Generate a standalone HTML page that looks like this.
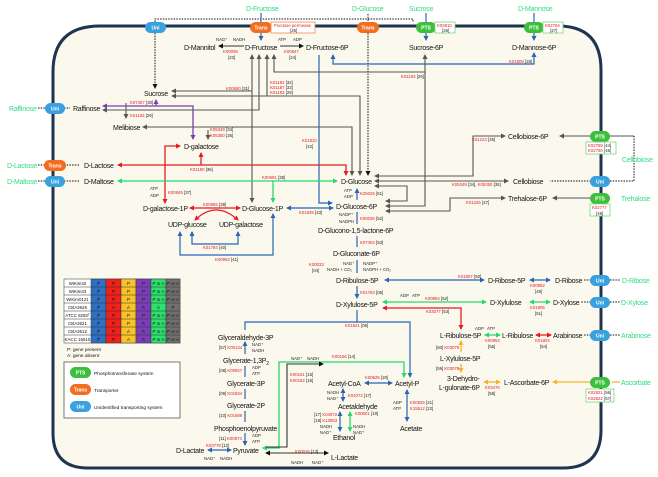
<!DOCTYPE html>
<html><head><meta charset="utf-8"><style>
html,body{margin:0;padding:0;background:#fff}
svg{display:block;font-family:"Liberation Sans",Arial,sans-serif}
.n{font-size:7px;letter-spacing:-0.25px;fill:#111}
.g{font-size:7px;letter-spacing:-0.2px;fill:#2fdc80}
.k{font-size:4.3px;fill:#222}
.r{fill:#e31b23}
.pl{font-size:5px;fill:#fff;text-anchor:middle;font-weight:bold}
</style></head><body>
<svg width="658" height="477" viewBox="0 0 658 477" xmlns="http://www.w3.org/2000/svg">
<defs>
<marker id="ab" markerWidth="5" markerHeight="5" refX="4" refY="2.5" orient="auto-start-reverse" markerUnits="userSpaceOnUse"><path d="M0,0L5,2.5L0,5z" fill="#2a66b4"/></marker>
<marker id="ar" markerWidth="5" markerHeight="5" refX="4" refY="2.5" orient="auto-start-reverse" markerUnits="userSpaceOnUse"><path d="M0,0L5,2.5L0,5z" fill="#e31b23"/></marker>
<marker id="ag" markerWidth="5" markerHeight="5" refX="4" refY="2.5" orient="auto-start-reverse" markerUnits="userSpaceOnUse"><path d="M0,0L5,2.5L0,5z" fill="#27d86a"/></marker>
<marker id="ak" markerWidth="5" markerHeight="5" refX="4" refY="2.5" orient="auto-start-reverse" markerUnits="userSpaceOnUse"><path d="M0,0L5,2.5L0,5z" fill="#555"/></marker>
<marker id="ad" markerWidth="5" markerHeight="5" refX="4" refY="2.5" orient="auto-start-reverse" markerUnits="userSpaceOnUse"><path d="M0,0L5,2.5L0,5z" fill="#111"/></marker>
<marker id="ap" markerWidth="5" markerHeight="5" refX="4" refY="2.5" orient="auto-start-reverse" markerUnits="userSpaceOnUse"><path d="M0,0L5,2.5L0,5z" fill="#7a3db8"/></marker>
<marker id="ay" markerWidth="5" markerHeight="5" refX="4" refY="2.5" orient="auto-start-reverse" markerUnits="userSpaceOnUse"><path d="M0,0L5,2.5L0,5z" fill="#f4b42a"/></marker>
</defs>
<path d="M100,26 H558 Q601,26 601,70 V430 Q601,468 563,468 H88 Q53,468 53,433 V72 Q53,26 100,26 Z" fill="#fbf9ee" stroke="#1e3552" stroke-width="3"/>
<path d="M155,22 V19 H413 V22" fill="none" stroke="#111" stroke-width="1" stroke-dasharray="1.5,1.2"/>
<path d="M155,33 V88" stroke="#111" stroke-width="1" stroke-dasharray="1.5,1.2" marker-end="url(#ad)"/>
<path d="M368,33 V175" stroke="#111" stroke-width="1" stroke-dasharray="1.5,1.2" marker-end="url(#ad)"/>
<path d="M368,14 V22" stroke="#111" stroke-width="1" stroke-dasharray="1.5,1.2"/>
<g stroke="#2a66b4" stroke-width="1.2" fill="none">
<path d="M261,13 V40" marker-end="url(#ab)"/>
<path d="M426,13 V22"/><path d="M534,13 V40" marker-end="url(#ab)"/>
<path d="M426,32 V40" marker-end="url(#ab)"/>
<path d="M534,53 V64 H333 V55" marker-start="url(#ab)" marker-end="url(#ab)"/>
<path d="M319,55 V203 H332" marker-end="url(#ab)"/>
<path d="M287,208 H333" marker-start="url(#ab)" marker-end="url(#ab)"/>
<path d="M192,232 V244 H238 V232" marker-start="url(#ab)" marker-end="url(#ab)"/>
<path d="M180,232 V255 H273 V214" marker-start="url(#ab)" marker-end="url(#ab)"/>
<path d="M357,189 V200 M357,212 V224 M357,236 V247 M357,260 V273 M357,286 V298" marker-start="url(#ab)" marker-end="url(#ab)"/>
<path d="M385,280 H484" marker-start="url(#ab)" marker-end="url(#ab)"/>
<path d="M530,280 H550" marker-start="url(#ab)" marker-end="url(#ab)"/>
<path d="M357,310 V322 M245,330 V322 H410 V377" marker-end="url(#ab)"/>
<path d="M245,342 V354 M245,366 V377 M245,389 V399 M245,411 V422 M245,433 V445" marker-start="url(#ab)" marker-end="url(#ab)"/>
<path d="M208,450 H231" marker-start="url(#ab)" marker-end="url(#ab)"/>
<path d="M365,383 H392" marker-start="url(#ab)" marker-end="url(#ab)"/>
<path d="M407,390 V421" marker-start="url(#ab)" marker-end="url(#ab)"/>
<path d="M343,389 V401" marker-start="url(#ab)" marker-end="url(#ab)"/>
<path d="M340,412 V431" marker-start="url(#ab)" marker-end="url(#ab)"/>
</g>
<g stroke="#555" stroke-width="1.1" fill="none">
<path d="M252,55 V202" marker-start="url(#ak)" marker-end="url(#ak)"/>
<path d="M259,55 V110 H103" marker-start="url(#ak)" marker-end="url(#ak)"/>
<path d="M252,91 H172" marker-end="url(#ak)"/>
<path d="M267,55 V96 H172" marker-start="url(#ak)" marker-end="url(#ak)"/>
<path d="M267,96 H360 V175" marker-end="url(#ak)"/>
<path d="M274,55 V72 H425 V55" marker-start="url(#ak)" marker-end="url(#ak)"/>
<path d="M425,72 V206 H386" marker-end="url(#ak)"/>
<path d="M126,103 V118" marker-end="url(#ak)"/>
<path d="M143,127 H352 V175" marker-start="url(#ak)" marker-end="url(#ak)"/>
<path d="M375,176 H473 V136 H505" marker-start="url(#ak)" marker-end="url(#ak)"/>
<path d="M375,181 H508" marker-start="url(#ak)" marker-end="url(#ak)"/>
<path d="M375,186 H407 V201 H386" marker-start="url(#ak)" marker-end="url(#ak)"/>
<path d="M386,211 H450 V198 H505" marker-start="url(#ak)" marker-end="url(#ak)"/>
<path d="M208,130 V139" marker-end="url(#ak)"/>
<path d="M590,136 H560" marker-end="url(#ak)"/>
<path d="M590,198 H553" marker-end="url(#ak)"/>
<path d="M610,136 H634"/>
</g>
<g stroke="#e31b23" stroke-width="1.3" fill="none">
<path d="M118,165 H346 V175" marker-start="url(#ar)" marker-end="url(#ar)"/>
<path d="M201,165 V153" marker-end="url(#ar)"/>
<path d="M180,146 H165 V203" marker-start="url(#ar)" marker-end="url(#ar)"/>
<path d="M190,208 H240" marker-start="url(#ar)" marker-end="url(#ar)"/>
<path d="M195,220 Q216,200 238,220" marker-start="url(#ar)" marker-end="url(#ar)"/>
<path d="M383,308 H461 V329" marker-start="url(#ar)" marker-end="url(#ar)"/>
<path d="M536,335 H551" marker-start="url(#ar)" marker-end="url(#ar)"/>
</g>
<g stroke="#27d86a" stroke-width="1.3" fill="none">
<path d="M118,181 H337" marker-start="url(#ag)" marker-end="url(#ag)"/>
<path d="M273,181 V202" marker-end="url(#ag)"/>
<path d="M383,302 H486" marker-start="url(#ag)" marker-end="url(#ag)"/>
<path d="M530,302 H550" marker-start="url(#ag)" marker-end="url(#ag)"/>
<path d="M485,335 H500" marker-start="url(#ag)" marker-end="url(#ag)"/>
<path d="M263,448 H279 V362 H404 V377" marker-start="url(#ag)" marker-end="url(#ag)"/>
<path d="M350,412 V431" marker-start="url(#ag)" marker-end="url(#ag)"/>
</g>
<g stroke="#7a3db8" stroke-width="1.3" fill="none">
<path d="M103,106 H193 V139" marker-start="url(#ap)" marker-end="url(#ap)"/>
<path d="M156,106 V100" marker-end="url(#ap)"/>
</g>
<g stroke="#f4b42a" stroke-width="1.3" fill="none">
<path d="M461,341 V352 M461,364 V372" marker-start="url(#ay)" marker-end="url(#ay)"/>
<path d="M484,382 H500" marker-start="url(#ay)" marker-end="url(#ay)"/>
<path d="M590,382 H553" marker-end="url(#ay)"/>
<path d="M612,382 H620"/>
</g>
<g stroke="#333" stroke-width="1.1" fill="none">
<path d="M266,447 H287 V364 H323" marker-end="url(#ad)"/>
<path d="M266,453 H328" marker-start="url(#ad)" marker-end="url(#ad)"/>
<path d="M219,46 H244 M280,46 H303" marker-start="url(#ad)" marker-end="url(#ad)"/>
</g>
<g stroke="#111" stroke-width="1" stroke-dasharray="1.5,1.2" fill="none">
<path d="M38,108 H45 M64,108 H70 M38,165 H45 M64,165 H80 M38,181 H45 M64,181 H80"/>
<path d="M591,181 H550 M634,136 V181 H610 M610,280 H620 M591,280 H583 M610,302 H620 M591,302 H581 M610,335 H620 M591,335 H583"/>
</g>
<g>
<rect x="145" y="22" width="21" height="11" rx="5.5" fill="#3aa0de"/><text class="pl" x="155.5" y="29.5">Uni</text>
<rect x="250" y="22" width="22" height="11" rx="5.5" fill="#f36d21"/><text class="pl" x="261" y="29.5">Trans</text>
<rect x="357" y="22" width="22" height="11" rx="5.5" fill="#f36d21"/><text class="pl" x="368" y="29.5">Trans</text>
<rect x="416" y="22" width="20" height="11" rx="5.5" fill="#3cbf3c"/><text class="pl" x="426" y="29.5">PTS</text>
<rect x="524" y="22" width="20" height="11" rx="5.5" fill="#3cbf3c"/><text class="pl" x="534" y="29.5">PTS</text>
<rect x="45" y="103" width="20" height="11" rx="5.5" fill="#3aa0de"/><text class="pl" x="55" y="110.5">Uni</text>
<rect x="44" y="160" width="22" height="11" rx="5.5" fill="#f36d21"/><text class="pl" x="55" y="167.5">Trans</text>
<rect x="45" y="176" width="20" height="11" rx="5.5" fill="#3aa0de"/><text class="pl" x="55" y="183.5">Uni</text>
<rect x="590" y="131" width="20" height="11" rx="5.5" fill="#3cbf3c"/><text class="pl" x="600" y="138.5">PTS</text>
<rect x="590" y="176" width="20" height="11" rx="5.5" fill="#3aa0de"/><text class="pl" x="600" y="183.5">Uni</text>
<rect x="590" y="193" width="20" height="11" rx="5.5" fill="#3cbf3c"/><text class="pl" x="600" y="200.5">PTS</text>
<rect x="590" y="275" width="20" height="11" rx="5.5" fill="#3aa0de"/><text class="pl" x="600" y="282.5">Uni</text>
<rect x="590" y="297" width="20" height="11" rx="5.5" fill="#3aa0de"/><text class="pl" x="600" y="304.5">Uni</text>
<rect x="590" y="330" width="20" height="11" rx="5.5" fill="#3aa0de"/><text class="pl" x="600" y="337.5">Uni</text>
<rect x="590" y="377" width="20" height="11" rx="5.5" fill="#3cbf3c"/><text class="pl" x="600" y="384.5">PTS</text>
</g>
<g fill="#fff" stroke-width="0.8">
<rect x="271" y="22" width="44" height="11" stroke="#f08a4b"/>
<rect x="435" y="22" width="20" height="11" stroke="#7cd47c"/>
<rect x="543" y="22" width="20" height="11" stroke="#7cd47c"/>
<rect x="586" y="142" width="30" height="12" stroke="#7cd47c"/>
<rect x="590" y="204" width="20" height="12" stroke="#7cd47c"/>
<rect x="586" y="389" width="28" height="13" stroke="#7cd47c"/>
</g>
<g class="k">
<text x="274" y="27" class="r">Fructose permease</text><text x="290" y="32">[25]</text>
<text x="437" y="27" class="r">K02810</text><text x="442" y="32">[26]</text>
<text x="545" y="27" class="r">K02794</text><text x="550" y="32">[27]</text>
<text x="588" y="147"><tspan class="r">K02759</tspan> [44]</text><text x="588" y="152"><tspan class="r">K02760</tspan> [45]</text>
<text x="592" y="209" class="r">K02777</text><text x="596" y="215">[48]</text>
<text x="588" y="394"><tspan class="r">K02821</tspan> [56]</text><text x="588" y="400"><tspan class="r">K02822</tspan> [57]</text>
</g>
<g class="g">
<text x="246" y="11">D-Fructose</text><text x="352" y="11">D-Glucose</text><text x="409" y="11">Sucrose</text><text x="518" y="11">D-Mannose</text>
<text x="9" y="111">Raffinose</text><text x="7" y="168">D-Lactose</text><text x="7" y="184">D-Maltose</text>
<text x="622" y="162">Cellobiose</text><text x="621" y="201">Trehalose</text>
<text x="622" y="283">D-Ribose</text><text x="621" y="305">D-Xylose</text><text x="621" y="338">Arabinose</text><text x="621" y="385">Ascorbate</text>
</g>
<g class="n">
<text x="184" y="50">D-Mannitol</text><text x="245" y="50">D-Fructose</text><text x="306" y="50">D-Fructose-6P</text>
<text x="409" y="50">Sucrose-6P</text><text x="512" y="50">D-Mannose-6P</text>
<text x="144" y="96">Sucrose</text><text x="73" y="111">Raffinose</text><text x="113" y="130">Melibiose</text>
<text x="184" y="149">D-galactose</text><text x="84" y="168">D-Lactose</text><text x="84" y="184">D-Maltose</text>
<text x="143" y="211">D-galactose-1P</text><text x="242" y="211">D-Glucose-1P</text>
<text x="168" y="227">UDP-glucose</text><text x="219" y="227">UDP-galactose</text>
<text x="341" y="184">D-Glucose</text><text x="336" y="209">D-Glucose-6P</text>
<text x="318" y="233">D-Glucono-1,5-lactone-6P</text><text x="333" y="256">D-Gluconate-6P</text>
<text x="336" y="283">D-Ribulose-5P</text><text x="336" y="307">D-Xylulose-5P</text>
<text x="508" y="139">Cellobiose-6P</text><text x="513" y="184">Cellobiose</text><text x="508" y="201">Trehalose-6P</text>
<text x="488" y="283">D-Ribose-5P</text><text x="555" y="283">D-Ribose</text>
<text x="490" y="305">D-Xylulose</text><text x="553" y="305">D-Xylose</text>
<text x="440" y="338">L-Ribulose-5P</text><text x="502" y="338">L-Ribulose</text><text x="553" y="338">Arabinose</text>
<text x="440" y="361">L-Xylulose-5P</text><text x="447" y="381">3-Dehydro-</text><text x="439" y="390">L-gulonate-6P</text>
<text x="504" y="385">L-Ascorbate-6P</text>
<text x="218" y="340">Glyceraldehyde-3P</text><text x="223" y="363">Glycerate-1,3P<tspan font-size="5" dy="2">2</tspan></text>
<text x="227" y="386">Glycerate-3P</text><text x="227" y="408">Glycerate-2P</text><text x="214" y="431">Phosphoenolpyruvate</text>
<text x="176" y="453">D-Lactate</text><text x="233" y="453">Pyruvate</text><text x="331" y="460">L-Lactate</text>
<text x="328" y="386">Acetyl-CoA</text><text x="338" y="409">Acetaldehyde</text><text x="333" y="440">Ethanol</text>
<text x="395" y="386">Acetyl-P</text><text x="400" y="431">Acetate</text>
</g>
<g class="k">
<text x="223" y="53" class="r">K00008</text><text x="228" y="59">[23]</text>
<text x="284" y="53" class="r">K00847</text><text x="289" y="59">[24]</text>
<text x="216" y="41">NAD⁺</text><text x="233" y="41">NADH</text><text x="278" y="41">ATP</text><text x="293" y="41">ADP</text>
<text x="226" y="90"><tspan class="r">K00690</tspan> [31]</text>
<text x="270" y="84"><tspan class="r">K01182</tspan> [32]</text><text x="270" y="89"><tspan class="r">K01187</tspan> [33]</text><text x="270" y="94"><tspan class="r">K01193</tspan> [29]</text>
<text x="401" y="78"><tspan class="r">K01193</tspan> [29]</text>
<text x="509" y="63"><tspan class="r">K01809</tspan> [28]</text>
<text x="130" y="104"><tspan class="r">K07407</tspan> [30]</text>
<text x="130" y="117"><tspan class="r">K01193</tspan> [29]</text>
<text x="210" y="131"><tspan class="r">K05349</tspan> [34]</text><text x="210" y="137"><tspan class="r">K05350</tspan> [35]</text>
<text x="302" y="142" class="r">K01810</text><text x="306" y="148">[42]</text>
<text x="190" y="171"><tspan class="r">K01190</tspan> [36]</text>
<text x="262" y="179"><tspan class="r">K00691</tspan> [38]</text>
<text x="150" y="190">ATP</text><text x="150" y="197">ADP</text><text x="168" y="194"><tspan class="r">K00849</tspan> [37]</text>
<text x="203" y="206"><tspan class="r">K00965</tspan> [39]</text>
<text x="299" y="214"><tspan class="r">K01835</tspan> [43]</text>
<text x="203" y="249"><tspan class="r">K01784</tspan> [40]</text>
<text x="215" y="261"><tspan class="r">K00963</tspan> [41]</text>
<text x="344" y="192">ATP</text><text x="344" y="198">ADP</text><text x="360" y="195"><tspan class="r">K25026</tspan> [51]</text>
<text x="339" y="216">NADP⁺</text><text x="339" y="223">NADPH</text><text x="360" y="220"><tspan class="r">K00036</tspan> [52]</text>
<text x="360" y="244"><tspan class="r">K07404</tspan> [53]</text>
<text x="309" y="266" class="r">K00033</text><text x="312" y="272">[04]</text>
<text x="343" y="265">NAD⁺</text><text x="363" y="265">NADP⁺</text><text x="327" y="271">NADH + CO₂</text><text x="363" y="271">NADPH + CO₂</text>
<text x="458" y="278"><tspan class="r">K01807</tspan> [50]</text>
<text x="360" y="294"><tspan class="r">K01783</tspan> [05]</text>
<text x="400" y="297">ADP</text><text x="412" y="297">ATP</text>
<text x="425" y="300"><tspan class="r">K00854</tspan> [52]</text>
<text x="426" y="313"><tspan class="r">K03077</tspan> [53]</text>
<text x="345" y="327"><tspan class="r">K01621</tspan> [06]</text>
<text x="530" y="287" class="r">K00852</text><text x="535" y="293">[49]</text>
<text x="530" y="309" class="r">K01805</text><text x="535" y="315">[51]</text>
<text x="485" y="342" class="r">K00853</text><text x="488" y="348">[55]</text>
<text x="535" y="342" class="r">K01804</text><text x="540" y="348">[54]</text>
<text x="475" y="330">ADP</text><text x="487" y="330">ATP</text>
<text x="436" y="349">[60] <tspan class="r">K03079</tspan></text>
<text x="436" y="370">[59] <tspan class="r">K03078</tspan></text>
<text x="485" y="389" class="r">K03476</text><text x="488" y="395">[58]</text>
<text x="219" y="349">[57] <tspan class="r">K00134</tspan></text><text x="252" y="346">NAD⁺</text><text x="252" y="352">NADH</text>
<text x="219" y="372">[08] <tspan class="r">K00927</tspan></text><text x="252" y="369">ADP</text><text x="252" y="375">ATP</text>
<text x="219" y="395">[09] <tspan class="r">K01834</tspan></text>
<text x="219" y="417">[10] <tspan class="r">K01689</tspan></text>
<text x="219" y="440">[11] <tspan class="r">K00873</tspan></text><text x="252" y="437">ADP</text><text x="252" y="443">ATP</text>
<text x="206" y="447"><tspan class="r">K03778</tspan> [12]</text><text x="204" y="460">NAD⁺</text><text x="220" y="460">NADH</text>
<text x="295" y="453"><tspan class="r">K00016</tspan> [13]</text><text x="291" y="464">NADH</text><text x="312" y="464">NAD⁺</text>
<text x="290" y="376"><tspan class="r">K00161</tspan> [15]</text><text x="290" y="382"><tspan class="r">K00162</tspan> [16]</text>
<text x="291" y="360">NAD⁺</text><text x="307" y="360">NADH</text>
<text x="332" y="358"><tspan class="r">K00156</tspan> [14]</text>
<text x="365" y="379"><tspan class="r">K00625</tspan> [20]</text>
<text x="327" y="394">NADH</text><text x="327" y="400">NAD⁺</text><text x="348" y="397"><tspan class="r">K04072</tspan> [17]</text>
<text x="314" y="416">[17] <tspan class="r">K04072</tspan></text><text x="314" y="422">[18] <tspan class="r">K13953</tspan></text>
<text x="320" y="428">NADH</text><text x="320" y="434">NAD⁺</text><text x="353" y="428">NADH</text><text x="353" y="434">NAD⁺</text>
<text x="355" y="415"><tspan class="r">K00001</tspan> [19]</text>
<text x="393" y="404">ADP</text><text x="393" y="410">ATP</text>
<text x="410" y="404"><tspan class="r">K00925</tspan> [21]</text><text x="410" y="410"><tspan class="r">K15512</tspan> [22]</text>
<text x="452" y="186"><tspan class="r">K05349</tspan> [34], <tspan class="r">K05350</tspan> [35]</text>
<text x="472" y="141"><tspan class="r">K01223</tspan> [46]</text>
<text x="466" y="204"><tspan class="r">K01226</tspan> [47]</text>
</g>
<g font-size="4.4" text-anchor="middle">
<g stroke="#333" stroke-width="0.5">
<rect x="64" y="279" width="116" height="64" fill="#fff"/>
<rect x="91" y="279" width="15" height="64" fill="#2f6fc4"/>
<rect x="106" y="279" width="15" height="64" fill="#f0201a"/>
<rect x="121" y="279" width="15" height="64" fill="#f7c22a"/>
<rect x="136" y="279" width="15" height="64" fill="#7c3cb4"/>
<rect x="151" y="279" width="15" height="64" fill="#2ee06e"/>
<rect x="166" y="279" width="14" height="64" fill="#707070"/>
<path d="M64,287H180M64,295H180M64,303H180M64,311H180M64,319H180M64,327H180M64,335H180"/>
</g>
<g fill="#111">
<text x="77.5" y="285">WiKim32</text><text x="77.5" y="293">WiKim33</text><text x="77.5" y="301">WiKim0121</text><text x="77.5" y="309">CBA3628</text>
<text x="77.5" y="317">ATCC 8293ᵀ</text><text x="77.5" y="325">CBA3621</text><text x="77.5" y="333">CBA3612</text><text x="77.5" y="341">KACC 15510</text>
<text x="98.5" y="285">P</text><text x="98.5" y="293">P</text><text x="98.5" y="301">P</text><text x="98.5" y="309">P</text><text x="98.5" y="317">P</text><text x="98.5" y="325">P</text><text x="98.5" y="333">P</text><text x="98.5" y="341">P</text>
<text x="113.5" y="285">P</text><text x="113.5" y="293">P</text><text x="113.5" y="301">P</text><text x="113.5" y="309">A</text><text x="113.5" y="317">P</text><text x="113.5" y="325">P</text><text x="113.5" y="333">P</text><text x="113.5" y="341">P</text>
<text x="128.5" y="285">P</text><text x="128.5" y="293">P</text><text x="128.5" y="301">P</text><text x="128.5" y="309">A</text><text x="128.5" y="317">P</text><text x="128.5" y="325">P</text><text x="128.5" y="333">A</text><text x="128.5" y="341">A</text>
<text x="143.5" y="285">P</text><text x="143.5" y="293">P</text><text x="143.5" y="301">P</text><text x="143.5" y="309">A</text><text x="143.5" y="317">P</text><text x="143.5" y="325">A</text><text x="143.5" y="333">A</text><text x="143.5" y="341">A</text>
<text x="158.5" y="285">P or A</text><text x="158.5" y="293">P or A</text><text x="158.5" y="301">P or A</text><text x="158.5" y="309">A</text><text x="158.5" y="317">P or A</text><text x="158.5" y="325">P or A</text><text x="158.5" y="333">P or A</text><text x="158.5" y="341">P or A</text>
<text x="173" y="285">P or A</text><text x="173" y="293">P or A</text><text x="173" y="301">P or A</text><text x="173" y="309">P</text><text x="173" y="317">P or A</text><text x="173" y="325">P or A</text><text x="173" y="333">P or A</text><text x="173" y="341">P or A</text>
</g>
</g>
<g font-size="4.8" fill="#111"><text x="67" y="351">P: gene present</text><text x="67" y="357">A: gene absent</text></g>
<rect x="64" y="362" width="116" height="56" fill="#fff" stroke="#555" stroke-width="0.8"/>
<rect x="70" y="367" width="21" height="11" rx="5.5" fill="#3cbf3c"/><text class="pl" x="80.5" y="374.5">PTS</text>
<rect x="70" y="384" width="21" height="11" rx="5.5" fill="#f36d21"/><text class="pl" x="80.5" y="391.5">Trans</text>
<rect x="70" y="401" width="21" height="11" rx="5.5" fill="#3aa0de"/><text class="pl" x="80.5" y="408.5">Uni</text>
<g font-size="4.8" fill="#111"><text x="94" y="375">Phosphotransferase system</text><text x="94" y="392">Transporter</text><text x="94" y="409">Unidentified transporting system</text></g>
</svg>
</body></html>
